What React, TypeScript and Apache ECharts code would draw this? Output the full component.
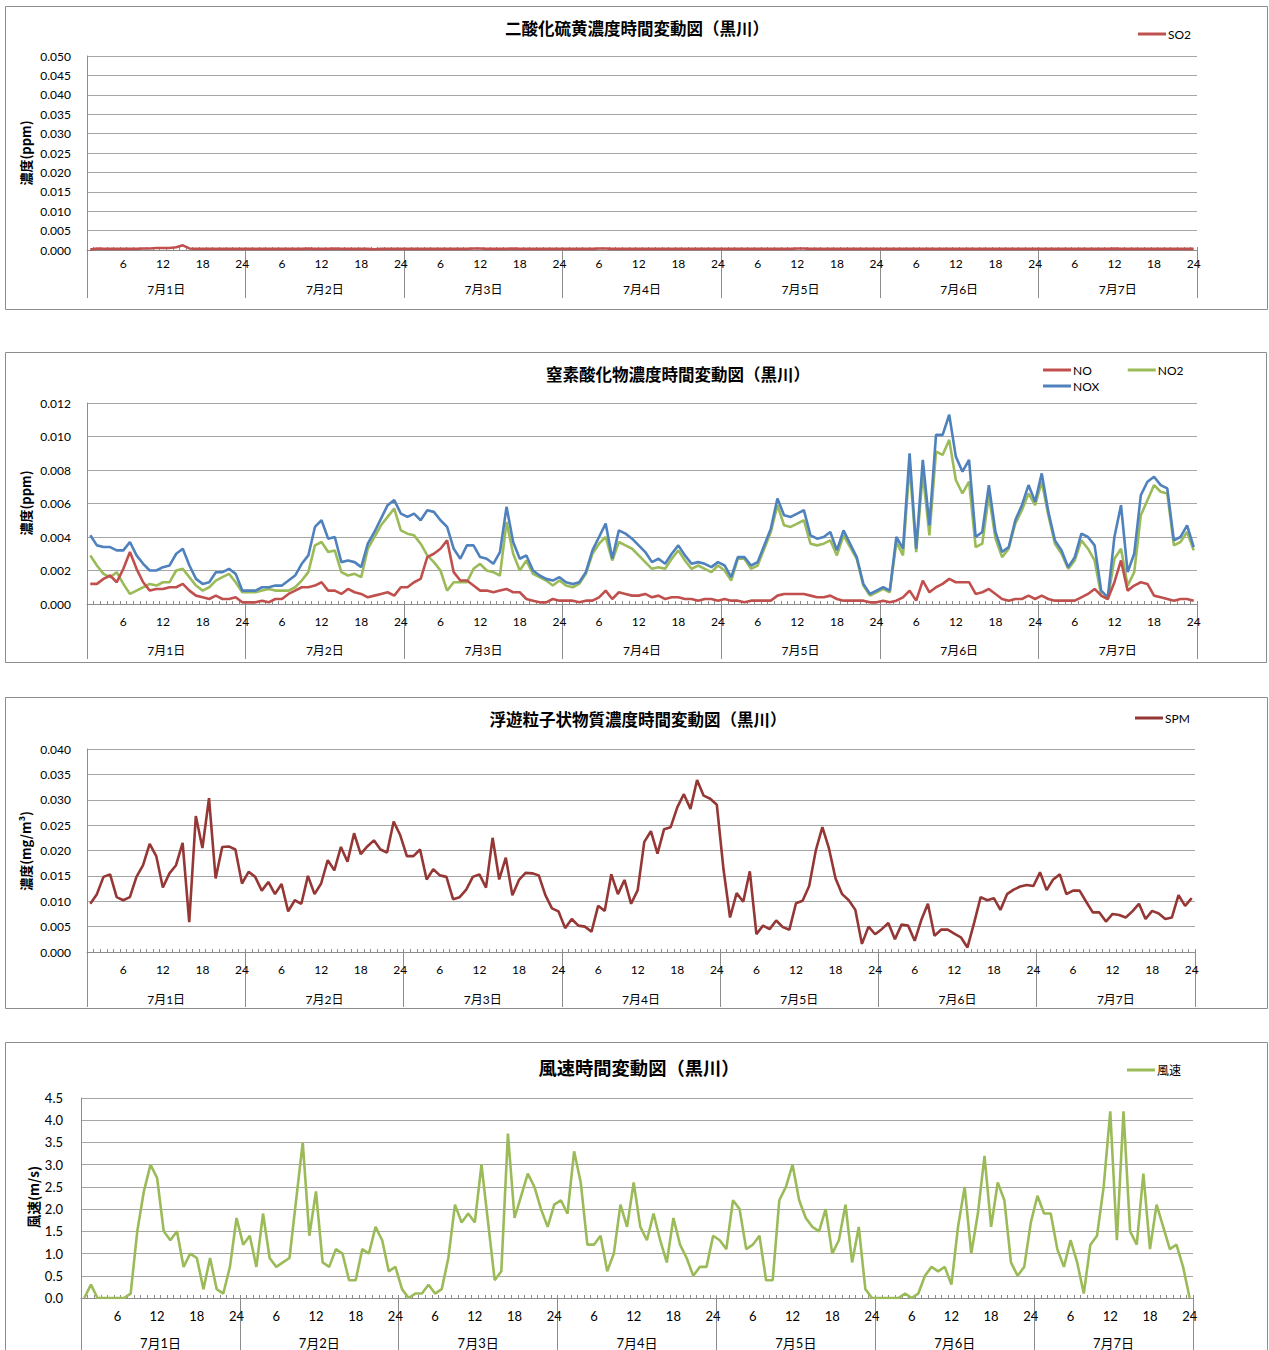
import React, { useEffect, useRef } from "react";
import * as echarts from "echarts";

const DAYS = ["7月1日", "7月2日", "7月3日", "7月4日", "7月5日", "7月6日", "7月7日"];
const HOURS = [1, 2, 3, 4, 5, 6, 7, 8, 9, 10, 11, 12, 13, 14, 15, 16, 17, 18, 19, 20, 21, 22, 23, 24];

const SO2 = [
  0.0001, 0.0004, 0.0003, 0.0003, 0.0003, 0.0003, 0.0003, 0.0003, 0.0004, 0.0004, 0.0005, 0.0005, 0.0005, 0.0007, 0.0012, 0.0004, 0.0003, 0.0003, 0.0003, 0.0003, 0.0003, 0.0003, 0.0003, 0.0003,
  0.0003, 0.0003, 0.0003, 0.0003, 0.0003, 0.0003, 0.0003, 0.0003, 0.0003, 0.0004, 0.0003, 0.0003, 0.0003, 0.0004, 0.0003, 0.0003, 0.0003, 0.0003, 0.0003, 0.0002, 0.0003, 0.0003, 0.0003, 0.0003,
  0.0003, 0.0003, 0.0003, 0.0003, 0.0003, 0.0003, 0.0003, 0.0003, 0.0003, 0.0003, 0.0004, 0.0004, 0.0003, 0.0003, 0.0003, 0.0003, 0.0004, 0.0003, 0.0003, 0.0003, 0.0003, 0.0003, 0.0003, 0.0003,
  0.0003, 0.0003, 0.0003, 0.0003, 0.0003, 0.0004, 0.0004, 0.0003, 0.0003, 0.0003, 0.0003, 0.0003, 0.0003, 0.0003, 0.0003, 0.0003, 0.0003, 0.0003, 0.0003, 0.0003, 0.0003, 0.0003, 0.0003, 0.0003,
  0.0003, 0.0003, 0.0003, 0.0003, 0.0003, 0.0003, 0.0003, 0.0003, 0.0003, 0.0003, 0.0003, 0.0004, 0.0004, 0.0003, 0.0003, 0.0003, 0.0003, 0.0003, 0.0003, 0.0003, 0.0003, 0.0003, 0.0003, 0.0003,
  0.0003, 0.0003, 0.0003, 0.0003, 0.0003, 0.0003, 0.0003, 0.0003, 0.0003, 0.0003, 0.0003, 0.0003, 0.0003, 0.0003, 0.0003, 0.0003, 0.0003, 0.0003, 0.0003, 0.0003, 0.0003, 0.0003, 0.0003, 0.0003,
  0.0003, 0.0003, 0.0003, 0.0003, 0.0003, 0.0003, 0.0003, 0.0003, 0.0003, 0.0003, 0.0003, 0.0004, 0.0003, 0.0003, 0.0003, 0.0003, 0.0003, 0.0003, 0.0003, 0.0003, 0.0003, 0.0003, 0.0003, 0.0003,
];

const NO = [
  0.0012, 0.0012, 0.0015, 0.0017, 0.0013, 0.0021, 0.0031, 0.0021, 0.0013, 0.0008, 0.0009, 0.0009, 0.0010, 0.0010, 0.0012, 0.0008, 0.0005, 0.0004, 0.0003, 0.0005, 0.0003, 0.0003, 0.0004, 0.0001,
  0.0001, 0.0001, 0.0002, 0.0001, 0.0003, 0.0003, 0.0006, 0.0008, 0.0010, 0.0010, 0.0011, 0.0013, 0.0008, 0.0008, 0.0006, 0.0009, 0.0007, 0.0006, 0.0004, 0.0005, 0.0006, 0.0007, 0.0005, 0.0010,
  0.0010, 0.0013, 0.0015, 0.0028, 0.0030, 0.0033, 0.0038, 0.0019, 0.0014, 0.0014, 0.0011, 0.0008, 0.0008, 0.0007, 0.0008, 0.0009, 0.0007, 0.0007, 0.0003, 0.0002, 0.0001, 0.0001, 0.0003, 0.0002,
  0.0002, 0.0002, 0.0001, 0.0002, 0.0002, 0.0004, 0.0008, 0.0003, 0.0007, 0.0006, 0.0005, 0.0005, 0.0006, 0.0004, 0.0005, 0.0003, 0.0004, 0.0004, 0.0003, 0.0003, 0.0002, 0.0003, 0.0003, 0.0002,
  0.0003, 0.0002, 0.0002, 0.0001, 0.0002, 0.0002, 0.0002, 0.0002, 0.0005, 0.0006, 0.0006, 0.0006, 0.0006, 0.0005, 0.0004, 0.0004, 0.0005, 0.0003, 0.0002, 0.0002, 0.0002, 0.0002, 0.0001, 0.0001,
  0.0002, 0.0001, 0.0002, 0.0004, 0.0008, 0.0002, 0.0014, 0.0007, 0.0010, 0.0012, 0.0015, 0.0013, 0.0013, 0.0013, 0.0006, 0.0007, 0.0009, 0.0006, 0.0003, 0.0002, 0.0003, 0.0003, 0.0005, 0.0003,
  0.0005, 0.0003, 0.0002, 0.0002, 0.0002, 0.0002, 0.0004, 0.0006, 0.0009, 0.0005, 0.0003, 0.0013, 0.0026, 0.0008, 0.0011, 0.0013, 0.0012, 0.0005, 0.0004, 0.0003, 0.0002, 0.0003, 0.0003, 0.0002,
];

const NO2 = [
  0.0029, 0.0023, 0.0018, 0.0016, 0.0019, 0.0012, 0.0006, 0.0008, 0.0010, 0.0012, 0.0011, 0.0013, 0.0013, 0.0020, 0.0021, 0.0016, 0.0011, 0.0008, 0.0010, 0.0014, 0.0016, 0.0018, 0.0013, 0.0007,
  0.0007, 0.0007, 0.0008, 0.0009, 0.0008, 0.0008, 0.0008, 0.0010, 0.0014, 0.0019, 0.0035, 0.0037, 0.0031, 0.0032, 0.0019, 0.0017, 0.0018, 0.0016, 0.0033, 0.0040, 0.0047, 0.0052, 0.0057, 0.0044,
  0.0042, 0.0041, 0.0036, 0.0029, 0.0025, 0.0020, 0.0008, 0.0013, 0.0013, 0.0013, 0.0021, 0.0024, 0.0020, 0.0019, 0.0017, 0.0049, 0.0030, 0.0020, 0.0026, 0.0018, 0.0016, 0.0014, 0.0011, 0.0014,
  0.0011, 0.0010, 0.0012, 0.0018, 0.0030, 0.0036, 0.0040, 0.0026, 0.0037, 0.0035, 0.0033, 0.0029, 0.0025, 0.0021, 0.0022, 0.0021, 0.0027, 0.0032, 0.0026, 0.0021, 0.0023, 0.0021, 0.0019, 0.0023,
  0.0020, 0.0014, 0.0027, 0.0027, 0.0021, 0.0023, 0.0033, 0.0043, 0.0059, 0.0047, 0.0046, 0.0048, 0.0050, 0.0036, 0.0035, 0.0036, 0.0038, 0.0029, 0.0041, 0.0034, 0.0027, 0.0011, 0.0005, 0.0007,
  0.0009, 0.0007, 0.0037, 0.0029, 0.0083, 0.0031, 0.0078, 0.0041, 0.0091, 0.0089, 0.0098, 0.0074, 0.0066, 0.0073, 0.0034, 0.0036, 0.0065, 0.0039, 0.0028, 0.0033, 0.0048, 0.0056, 0.0066, 0.0059,
  0.0073, 0.0053, 0.0036, 0.0030, 0.0021, 0.0026, 0.0038, 0.0033, 0.0026, 0.0005, 0.0003, 0.0027, 0.0033, 0.0011, 0.0019, 0.0053, 0.0062, 0.0071, 0.0067, 0.0066, 0.0035, 0.0037, 0.0043, 0.0032,
];

const NOX = [
  0.0041, 0.0035, 0.0034, 0.0034, 0.0032, 0.0032, 0.0037, 0.0029, 0.0024, 0.0020, 0.0020, 0.0022, 0.0023, 0.0030, 0.0033, 0.0023, 0.0015, 0.0012, 0.0013, 0.0019, 0.0019, 0.0021, 0.0018, 0.0008,
  0.0008, 0.0008, 0.0010, 0.0010, 0.0011, 0.0011, 0.0014, 0.0017, 0.0024, 0.0029, 0.0046, 0.0050, 0.0039, 0.0040, 0.0025, 0.0026, 0.0025, 0.0022, 0.0036, 0.0043, 0.0051, 0.0059, 0.0062, 0.0054,
  0.0052, 0.0054, 0.0050, 0.0056, 0.0055, 0.0050, 0.0046, 0.0033, 0.0027, 0.0035, 0.0035, 0.0028, 0.0027, 0.0024, 0.0031, 0.0058, 0.0037, 0.0027, 0.0029, 0.0020, 0.0017, 0.0015, 0.0014, 0.0016,
  0.0013, 0.0012, 0.0013, 0.0019, 0.0032, 0.0040, 0.0048, 0.0027, 0.0044, 0.0042, 0.0039, 0.0035, 0.0031, 0.0025, 0.0027, 0.0024, 0.0030, 0.0035, 0.0029, 0.0024, 0.0025, 0.0024, 0.0022, 0.0025,
  0.0023, 0.0016, 0.0028, 0.0028, 0.0023, 0.0025, 0.0035, 0.0045, 0.0063, 0.0053, 0.0052, 0.0054, 0.0056, 0.0041, 0.0039, 0.0040, 0.0043, 0.0032, 0.0044, 0.0036, 0.0028, 0.0012, 0.0006, 0.0008,
  0.0010, 0.0008, 0.0040, 0.0033, 0.0090, 0.0033, 0.0086, 0.0047, 0.0101, 0.0101, 0.0113, 0.0088, 0.0079, 0.0086, 0.0040, 0.0043, 0.0071, 0.0043, 0.0031, 0.0034, 0.0050, 0.0059, 0.0071, 0.0061,
  0.0078, 0.0055, 0.0038, 0.0032, 0.0022, 0.0028, 0.0042, 0.0040, 0.0035, 0.0008, 0.0004, 0.0040, 0.0059, 0.0019, 0.0030, 0.0065, 0.0073, 0.0076, 0.0071, 0.0069, 0.0038, 0.0040, 0.0047, 0.0034,
];

const SPM = [
  0.0095, 0.0114, 0.0148, 0.0153, 0.0108, 0.0102, 0.0108, 0.0148, 0.0171, 0.0213, 0.0189, 0.0127, 0.0155, 0.0171, 0.0215, 0.0059, 0.0268, 0.0205, 0.0303, 0.0145, 0.0207, 0.0208, 0.0202, 0.0135,
  0.0158, 0.0148, 0.0121, 0.0138, 0.0114, 0.0134, 0.0080, 0.0102, 0.0095, 0.0150, 0.0114, 0.0135, 0.0181, 0.0161, 0.0207, 0.0178, 0.0234, 0.0193, 0.0208, 0.0220, 0.0202, 0.0196, 0.0257, 0.0230,
  0.0189, 0.0189, 0.0202, 0.0143, 0.0163, 0.0151, 0.0148, 0.0104, 0.0108, 0.0123, 0.0148, 0.0153, 0.0127, 0.0225, 0.0143, 0.0186, 0.0112, 0.0142, 0.0156, 0.0155, 0.0151, 0.0112, 0.0086, 0.0080,
  0.0047, 0.0065, 0.0052, 0.0050, 0.0040, 0.0091, 0.0081, 0.0153, 0.0114, 0.0142, 0.0095, 0.0122, 0.0217, 0.0238, 0.0194, 0.0242, 0.0246, 0.0285, 0.0311, 0.0282, 0.0339, 0.0308, 0.0302, 0.0290,
  0.0164, 0.0068, 0.0116, 0.0099, 0.0159, 0.0035, 0.0052, 0.0045, 0.0062, 0.0049, 0.0044, 0.0096, 0.0101, 0.0130, 0.0200, 0.0246, 0.0204, 0.0145, 0.0114, 0.0102, 0.0083, 0.0016, 0.0050, 0.0035,
  0.0045, 0.0057, 0.0025, 0.0054, 0.0052, 0.0022, 0.0063, 0.0095, 0.0032, 0.0044, 0.0044, 0.0036, 0.0029, 0.0009, 0.0057, 0.0108, 0.0102, 0.0106, 0.0083, 0.0114, 0.0123, 0.0129, 0.0132, 0.0130,
  0.0157, 0.0122, 0.0143, 0.0153, 0.0114, 0.0121, 0.0121, 0.0099, 0.0078, 0.0078, 0.0060, 0.0075, 0.0073, 0.0068, 0.0080, 0.0095, 0.0065, 0.0081, 0.0076, 0.0065, 0.0068, 0.0112, 0.0091, 0.0106,
];

const WIND = [
  0.0, 0.3, 0.0, 0.0, 0.0, 0.0, 0.0, 0.1, 1.5, 2.4, 3.0, 2.7, 1.5, 1.3, 1.5, 0.7, 1.0, 0.9, 0.2, 0.9, 0.2, 0.1, 0.7, 1.8,
  1.2, 1.4, 0.7, 1.9, 0.9, 0.7, 0.8, 0.9, 2.2, 3.5, 1.4, 2.4, 0.8, 0.7, 1.1, 1.0, 0.4, 0.4, 1.1, 1.0, 1.6, 1.3, 0.6, 0.7,
  0.2, 0.0, 0.1, 0.1, 0.3, 0.1, 0.2, 0.9, 2.1, 1.7, 1.9, 1.7, 3.0, 1.7, 0.4, 0.6, 3.7, 1.8, 2.3, 2.8, 2.5, 2.0, 1.6, 2.1,
  2.2, 1.9, 3.3, 2.6, 1.2, 1.2, 1.4, 0.6, 1.0, 2.1, 1.6, 2.6, 1.6, 1.3, 1.9, 1.3, 0.8, 1.8, 1.2, 0.9, 0.5, 0.7, 0.7, 1.4,
  1.3, 1.1, 2.2, 2.0, 1.1, 1.2, 1.4, 0.4, 0.4, 2.2, 2.5, 3.0, 2.2, 1.8, 1.6, 1.5, 2.0, 1.0, 1.3, 2.1, 0.8, 1.6, 0.2, 0.0,
  0.0, 0.0, 0.0, 0.0, 0.1, 0.0, 0.1, 0.5, 0.7, 0.6, 0.7, 0.3, 1.6, 2.5, 1.0, 1.9, 3.2, 1.6, 2.6, 2.2, 0.8, 0.5, 0.7, 1.7,
  2.3, 1.9, 1.9, 1.1, 0.7, 1.3, 0.8, 0.1, 1.2, 1.4, 2.5, 4.2, 1.3, 4.2, 1.5, 1.2, 2.8, 1.1, 2.1, 1.6, 1.1, 1.2, 0.7, 0.0,
];

const TITLES = [
  "二酸化硫黄濃度時間変動図（黒川）",
  "窒素酸化物濃度時間変動図（黒川）",
  "浮遊粒子状物質濃度時間変動図（黒川）",
  "風速時間変動図（黒川）",
];
const Y_NAMES = ["濃度(ppm)", "濃度(ppm)", "濃度(mg/m³)", "風速(m/s)"];

const C_RED = "#C0504D";
const C_BLUE = "#4F81BD";
const C_GREEN = "#9BBB59";
const C_DRED = "#953735";
const AXIS_C = "#8c8c8c";
const GRID_C = "#a6a6a6";
const FONT = "Lato, 'Noto Sans CJK JP', sans-serif";
const JFONT = "'Noto Sans CJK JP', sans-serif";

function buildOption() {
  const cats: string[] = [];
  DAYS.forEach((d, di) => HOURS.forEach((h) => cats.push(di + "-" + h)));

  const panels = [
    { grid: { left: 87, top: 56, width: 1110, height: 194 }, max: 0.05, interval: 0.005, dec: 3, fs: 12, hourM: 7, dayM: 33, tickLen: 48, yM: 16 },
    { grid: { left: 87, top: 403, width: 1110, height: 201 }, max: 0.012, interval: 0.002, dec: 3, fs: 12, hourM: 11, dayM: 40, tickLen: 55, yM: 16 },
    { grid: { left: 87, top: 749, width: 1108, height: 203 }, max: 0.04, interval: 0.005, dec: 3, fs: 12, hourM: 11, dayM: 41, tickLen: 55, yM: 16 },
    { grid: { left: 81, top: 1098, width: 1112, height: 200 }, max: 4.5, interval: 0.5, dec: 1, fs: 13, hourM: 11, dayM: 38, tickLen: 60, yM: 18 },
  ];

  const grid: any[] = [];
  const xAxis: any[] = [];
  const yAxis: any[] = [];
  panels.forEach((p, pi) => {
    grid.push({ ...p.grid, containLabel: false, outerBoundsMode: "none" });
    xAxis.push({
      type: "category",
      gridIndex: pi,
      data: cats,
      boundaryGap: true,
      position: "bottom",
      axisLine: { show: true, onZero: false, lineStyle: { color: AXIS_C, width: 1 } },
      axisTick: { show: true, interval: 0, inside: true, length: 3, lineStyle: { color: AXIS_C } },
      axisLabel: {
        interval: (idx: number) => ((idx % 24) + 1) % 6 === 0,
        formatter: (v: string) => v.split("-")[1],
        margin: p.hourM,
        fontSize: p.fs,
        color: "#000",
        fontFamily: FONT,
      },
      splitLine: { show: false },
    });
    xAxis.push({
      type: "category",
      gridIndex: pi,
      data: DAYS,
      boundaryGap: true,
      position: "bottom",
      axisLine: { show: false, onZero: false },
      axisTick: { show: true, interval: 0, length: p.tickLen, lineStyle: { color: AXIS_C } },
      axisLabel: { interval: 0, margin: p.dayM, fontSize: p.fs, color: "#000", fontFamily: FONT },
      splitLine: { show: false },
    });
    yAxis.push({
      type: "value",
      gridIndex: pi,
      min: 0,
      max: p.max,
      interval: p.interval,
      axisLine: { show: true, lineStyle: { color: AXIS_C } },
      axisTick: { show: false },
      axisLabel: {
        formatter: (v: number) => v.toFixed(p.dec),
        margin: p.yM,
        fontSize: p.fs,
        color: "#000",
        fontFamily: FONT,
      },
      splitLine: { show: true, lineStyle: { color: GRID_C, width: 1 } },
    });
  });

  const mk = (name: string, data: number[], color: string, pi: number) => ({
    name,
    type: "line",
    xAxisIndex: pi * 2,
    yAxisIndex: pi,
    data,
    color,
    symbol: "none",
    lineStyle: { color, width: 2.6 },
    itemStyle: { color },
    emphasis: { disabled: true },
  });

  const series = [
    mk("SO2", SO2, C_RED, 0),
    mk("NO2", NO2, C_GREEN, 1),
    mk("NOX", NOX, C_BLUE, 1),
    mk("NO", NO, C_RED, 1),
    mk("SPM", SPM, C_DRED, 2),
    mk("風速", WIND, C_GREEN, 3),
  ];

  const lg = (data: string[], left: number, top: number, gap = 10) => ({
    data,
    left,
    top,
    orient: "horizontal",
    icon: "rect",
    itemWidth: 28,
    itemHeight: 3,
    itemGap: gap,
    selectedMode: false,
    padding: 0,
    textStyle: { fontSize: 12, color: "#000", fontFamily: FONT, padding: [0, 0, 0, -3] },
  });

  const legend = [
    lg(["SO2"], 1138, 28),
    lg(["NO", "NO2"], 1043, 364, 36),
    lg(["NOX"], 1043, 380),
    lg(["SPM"], 1135, 712),
    lg(["風速"], 1127, 1064),
  ];

  const boxes = [
    [5.5, 6.5, 1262, 303],
    [5.5, 352.5, 1261, 310],
    [5.5, 697.5, 1262, 311],
    [5.5, 1042.5, 1262, 330],
  ];
  const titlePos = [
    [637, 28, 16.5],
    [678, 374, 16.5],
    [638, 719, 16.5],
    [639, 1067, 18.3],
  ];
  const yNamePos = [
    [25, 153, 13],
    [25, 503, 13],
    [25, 851, 13],
    [33, 1197, 13.5],
  ];

  const graphic: any[] = [];
  boxes.forEach((b) =>
    graphic.push({
      type: "rect",
      shape: { x: b[0], y: b[1], width: b[2], height: b[3] },
      style: { fill: "none", stroke: "#8c8c8c", lineWidth: 1 },
      silent: true,
      z: -10,
    })
  );
  TITLES.forEach((t, i) =>
    graphic.push({
      type: "text",
      x: titlePos[i][0],
      y: titlePos[i][1],
      style: {
        text: t,
        fontSize: titlePos[i][2],
        fontWeight: "bold",
        fontFamily: JFONT,
        fill: "#000",
        align: "center",
        verticalAlign: "middle",
      },
      silent: true,
    })
  );
  Y_NAMES.forEach((t, i) =>
    graphic.push({
      type: "text",
      x: yNamePos[i][0],
      y: yNamePos[i][1],
      rotation: Math.PI / 2,
      style: {
        text: t,
        fontSize: yNamePos[i][2],
        fontWeight: "bold",
        fontFamily: JFONT,
        fill: "#000",
        align: "center",
        verticalAlign: "middle",
      },
      silent: true,
    })
  );

  return {
    animation: false,
    backgroundColor: "#fff",
    grid,
    xAxis,
    yAxis,
    series,
    legend,
    graphic,
  };
}

export default function App() {
  const ref = useRef<HTMLDivElement>(null);
  useEffect(() => {
    if (!ref.current) return;
    const chart = echarts.init(ref.current, null, { renderer: "svg" });
    chart.setOption(buildOption() as any);
    return () => chart.dispose();
  }, []);
  return (
    <div
      ref={ref}
      style={{ position: "absolute", left: 0, top: 0, width: 1269, height: 1350, background: "#fff" }}
    />
  );
}
